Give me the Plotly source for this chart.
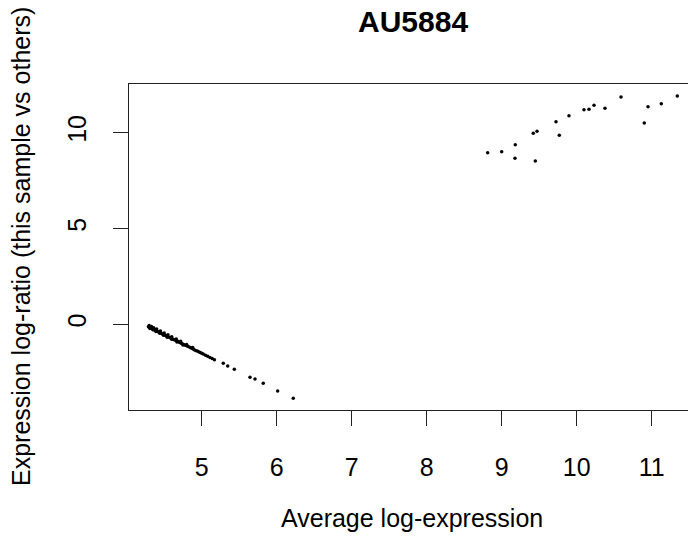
import plotly.graph_objects as go

# Dense low-expression band (genes absent in this sample)
low_x = [4.29, 4.30, 4.31, 4.32, 4.33, 4.34, 4.35, 4.36, 4.37, 4.38, 4.39, 4.40,
         4.42, 4.44, 4.46, 4.48, 4.50, 4.52, 4.54, 4.56, 4.58, 4.60, 4.62, 4.64,
         4.66, 4.68, 4.70, 4.72, 4.74, 4.76, 4.78, 4.80, 4.82, 4.84, 4.86, 4.88,
         4.90, 4.92, 4.94, 4.96, 4.98, 5.00, 5.02, 5.05, 5.08, 5.11, 5.14, 5.17,
         4.30, 4.33, 4.36, 4.40, 4.45, 4.50, 4.55, 4.60, 4.66, 4.72, 4.80, 4.88,
         4.31, 4.35, 4.39, 4.44, 4.49, 4.54, 4.60, 4.67, 4.75,
         5.288, 5.347, 5.435, 5.644, 5.711, 5.821, 6.013, 6.221]
low_y = [-0.129, -0.149, -0.168, -0.188, -0.207, -0.227, -0.246, -0.266, -0.285, -0.305, -0.325, -0.344,
         -0.383, -0.422, -0.461, -0.500, -0.540, -0.579, -0.618, -0.657, -0.696, -0.735, -0.774, -0.813,
         -0.852, -0.891, -0.931, -0.970, -1.009, -1.048, -1.087, -1.126, -1.165, -1.204, -1.243, -1.282,
         -1.322, -1.361, -1.400, -1.439, -1.478, -1.517, -1.556, -1.615, -1.673, -1.732, -1.791, -1.849,
         -0.06, -0.12, -0.18, -0.25, -0.35, -0.45, -0.55, -0.65, -0.77, -0.89, -1.05, -1.21,
         -0.22, -0.29, -0.37, -0.47, -0.57, -0.67, -0.78, -0.92, -1.08,
         -2.035, -2.176, -2.349, -2.766, -2.855, -3.079, -3.481, -3.862]

# High-expression genes specific to this sample
high_x = [8.813, 9.000, 9.181, 9.177, 9.421, 9.471, 9.448, 9.724, 9.768, 9.897,
          10.097, 10.164, 10.231, 10.377, 10.591, 10.901, 10.951, 11.128, 11.341]
high_y = [8.956, 9.008, 9.374, 8.664, 9.969, 10.073, 8.523, 10.574, 9.864, 10.887,
          11.200, 11.221, 11.430, 11.273, 11.863, 10.506, 11.357, 11.514, 11.915]

x_ticks = [5, 6, 7, 8, 9, 10, 11]
y_ticks = [0, 5, 10]

title_text = "AU5884"
x_title = "Average log-expression"
y_title = "Expression log-ratio (this sample vs others)"

FONT = "Liberation Sans, Arial, Helvetica, sans-serif"

fig = go.Figure()
fig.add_trace(go.Scatter(x=low_x + high_x, y=low_y + high_y, mode="markers",
                         marker=dict(color="black", size=3.5, line=dict(width=0)),
                         hoverinfo="skip", showlegend=False))

W, H = 688, 537
L, T, B, R = 129, 84, 410, 688
pw, ph = R - L, B - T

def px_to_paper_x(px):
    return (px - L) / pw

def py_to_paper_y(py):
    return (B - py) / ph

fig.update_layout(
    width=W, height=H,
    margin=dict(l=L, r=W - R, t=T, b=H - B, pad=0),
    paper_bgcolor="white", plot_bgcolor="white",
    font=dict(family=FONT, size=25, color="black"),
    xaxis=dict(range=[4.031, 11.484], tickvals=x_ticks, ticktext=[str(v) for v in x_ticks],
               showgrid=False, zeroline=False, showline=True, mirror=True,
               linecolor="#222", linewidth=1, ticks="outside", ticklen=15,
               tickwidth=1, tickcolor="#222", ticklabelstandoff=20,
               tickfont=dict(family=FONT, size=25, color="black")),
    yaxis=dict(range=[-4.473, 12.542], tickvals=y_ticks, ticktext=[str(v) for v in y_ticks],
               showgrid=False, zeroline=False, showline=True, mirror=False,
               linecolor="#222", linewidth=1, ticks="outside", ticklen=15,
               tickwidth=1, tickcolor="#222", tickangle=-90, ticklabelstandoff=17,
               tickfont=dict(family=FONT, size=25, color="black")),
    annotations=[
        dict(text="<b>" + title_text + "</b>", xref="paper", yref="paper",
             x=px_to_paper_x(413), y=py_to_paper_y(22), xanchor="center", yanchor="middle",
             showarrow=False, font=dict(family=FONT, size=30, color="black")),
        dict(text=x_title, xref="paper", yref="paper",
             x=px_to_paper_x(412), y=py_to_paper_y(518), xanchor="center", yanchor="middle",
             showarrow=False, font=dict(family=FONT, size=25, color="black")),
        dict(text=y_title, xref="paper", yref="paper", textangle=-90,
             x=px_to_paper_x(21), y=py_to_paper_y(247), xanchor="center", yanchor="middle",
             showarrow=False, font=dict(family=FONT, size=25, color="black")),
    ],
)

fig.write_html("out.html")
